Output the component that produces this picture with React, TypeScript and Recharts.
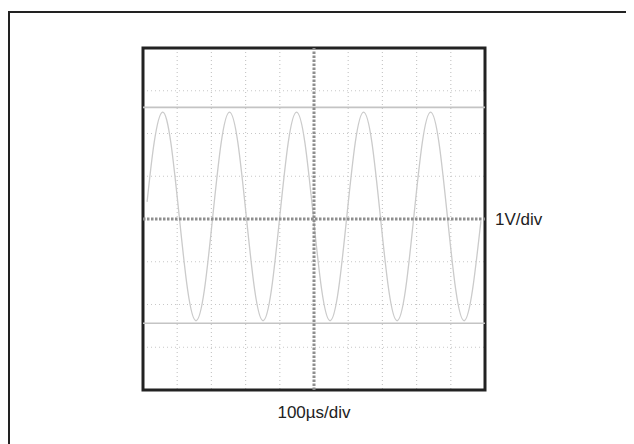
import React from "react";
import {
  ComposedChart,
  Line,
  XAxis,
  YAxis,
  CartesianGrid,
  ReferenceLine,
  ReferenceArea,
} from "recharts";

// time in divisions (100µs/div), 10 horizontal divisions
const timeDiv = [
  0.12, 0.325, 0.57, 0.815, 1.06, 1.305, 1.55, 1.795, 2.04, 2.285,
  2.53, 2.775, 3.02, 3.265, 3.51, 3.755, 4.0, 4.245, 4.49, 4.735,
  4.98, 5.225, 5.47, 5.715, 5.96, 6.205, 6.45, 6.695, 6.94, 7.185,
  7.43, 7.675, 7.92, 8.165, 8.41, 8.655, 8.9, 9.145, 9.39, 9.635, 9.88,
];
// voltage in divisions (1V/div)
const voltDiv = [
  0.4, 1.78, 2.5, 1.78, 0.06, -1.66, -2.38, -1.66, 0.06, 1.78,
  2.5, 1.78, 0.06, -1.66, -2.38, -1.66, 0.06, 1.78, 2.5, 1.78,
  0.06, -1.66, -2.38, -1.66, 0.06, 1.78, 2.5, 1.78, 0.06, -1.66,
  -2.38, -1.66, 0.06, 1.78, 2.5, 1.78, 0.06, -1.66, -2.38, -1.66, -0.05,
];
const xTicks = [0, 1, 2, 3, 4, 5, 6, 7, 8, 9, 10];
const yTicks = [-4, -3, -2, -1, 0, 1, 2, 3, 4];
const cursorLevels = [2.61, -2.44];
const xLabel = "100µs/div";
const yLabel = "1V/div";

const data = timeDiv.map((t, i) => ({ t, v: voltDiv[i] }));

const FONT = "'Liberation Sans', Arial, sans-serif";

export default function App() {
  return (
    <div style={{ position: "relative", width: 626, height: 436, overflow: "hidden" }}>
      <div
        style={{
          position: "absolute",
          left: 0,
          top: 3,
          width: 626,
          height: 433,
          borderTop: "2px solid #222",
          borderLeft: "2px solid #222",
          boxSizing: "border-box",
        }}
      />
      <div style={{ position: "absolute", left: 0, top: 0 }}>
        <ComposedChart
          width={626}
          height={436}
          data={data}
          margin={{ top: 40, right: 149, bottom: 54, left: 135 }}
        >
          <XAxis
            dataKey="t"
            type="number"
            domain={[0, 10]}
            ticks={xTicks}
            hide
          />
          <YAxis type="number" domain={[-4, 4]} ticks={yTicks} hide />
          <CartesianGrid
            stroke="#c8c8c8"
            strokeDasharray="1 3"
            strokeWidth={1.2}
          />
          {cursorLevels.map((lv) => (
            <ReferenceLine
              key={lv}
              y={lv}
              stroke="#c4c4c4"
              strokeWidth={1.6}
            />
          ))}
          <Line
            type="natural"
            dataKey="v"
            stroke="#cbcbcb"
            strokeWidth={1.3}
            dot={false}
            isAnimationActive={false}
          />
          <ReferenceLine
            y={0}
            stroke="#8e8e8e"
            strokeWidth={3}
            strokeDasharray="2.5 1.5"
            label={{
              value: yLabel,
              position: "right",
              offset: 10,
              fill: "#222",
              fontSize: 17,
              fontFamily: FONT,
            }}
          />
          <ReferenceLine
            x={5}
            stroke="#8e8e8e"
            strokeWidth={3}
            strokeDasharray="2.5 1.5"
            label={{
              value: xLabel,
              position: "bottom",
              offset: 16,
              fill: "#222",
              fontSize: 17,
              fontFamily: FONT,
            }}
          />
          <ReferenceArea
            x1={0}
            x2={10}
            y1={-4}
            y2={4}
            fill="none"
            fillOpacity={0}
            stroke="#222"
            strokeWidth={3}
          />
        </ComposedChart>
      </div>
    </div>
  );
}
